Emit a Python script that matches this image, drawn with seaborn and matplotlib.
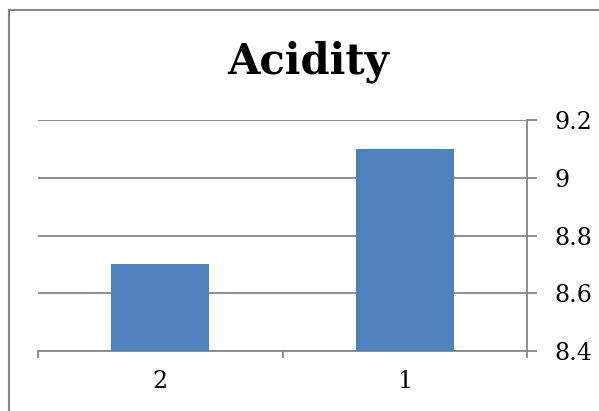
import matplotlib
matplotlib.use("Agg")
import matplotlib.pyplot as plt
from matplotlib.patches import Rectangle
import seaborn as sns
import pandas as pd

categories = ["2", "1"]
values = [8.7, 9.1]
y_ticks = [8.4, 8.6, 8.8, 9.0, 9.2]
y_tick_labels = ["8.4", "8.6", "8.8", "9", "9.2"]
title = "Acidity"

sns.set_theme(style="white")
plt.rcParams["font.family"] = ["DejaVu Serif"]

W, H = 599, 411
fig = plt.figure(figsize=(W / 100, H / 100), dpi=100)
ax = fig.add_axes([38 / W, 60 / H, (527 - 38) / W, (351 - 120) / H])

df = pd.DataFrame({"cat": categories, "val": values})
sns.barplot(data=df, x="cat", y="val", ax=ax, color="#4F81BD", width=0.4,
            saturation=1, linewidth=0, edgecolor="none", zorder=3)

grid_c = "#868686"
ax.set_ylim(8.4, 9.2)
ax.set_xlim(-0.5, 1.5)
ax.set_yticks(y_ticks)
ax.set_yticklabels(y_tick_labels)
ax.yaxis.tick_right()
ax.grid(axis="y", color=grid_c, linewidth=1.3, zorder=0)
ax.grid(axis="x", visible=False)
ax.set_xlabel("")
ax.set_ylabel("")

for s in ["left", "top"]:
    ax.spines[s].set_visible(False)
for s in ["right", "bottom"]:
    ax.spines[s].set_color(grid_c)
    ax.spines[s].set_linewidth(1.3)

ax.tick_params(axis="y", which="major", right=True, length=7, width=1.3,
               color=grid_c, pad=13, labelsize=17, labelcolor="black")
ax.tick_params(axis="x", which="major", bottom=False, length=0, pad=14,
               labelsize=17, labelcolor="black")
ax.set_xticks([-0.5, 0.5, 1.5], minor=True)
ax.tick_params(axis="x", which="minor", bottom=True, length=5, width=1.3,
               color=grid_c, direction="out")

fig.text(308 / W, 1 - 62 / H, title, ha="center", va="center",
         fontsize=30, fontweight="bold", color="black")

# chart frame
fig.patches.append(Rectangle((8.5 / W, -0.1), 2, 1 - 9.5 / H + 0.1,
                             transform=fig.transFigure, fill=False,
                             edgecolor=grid_c, linewidth=1.5))

fig.savefig("out.png", dpi=100)
